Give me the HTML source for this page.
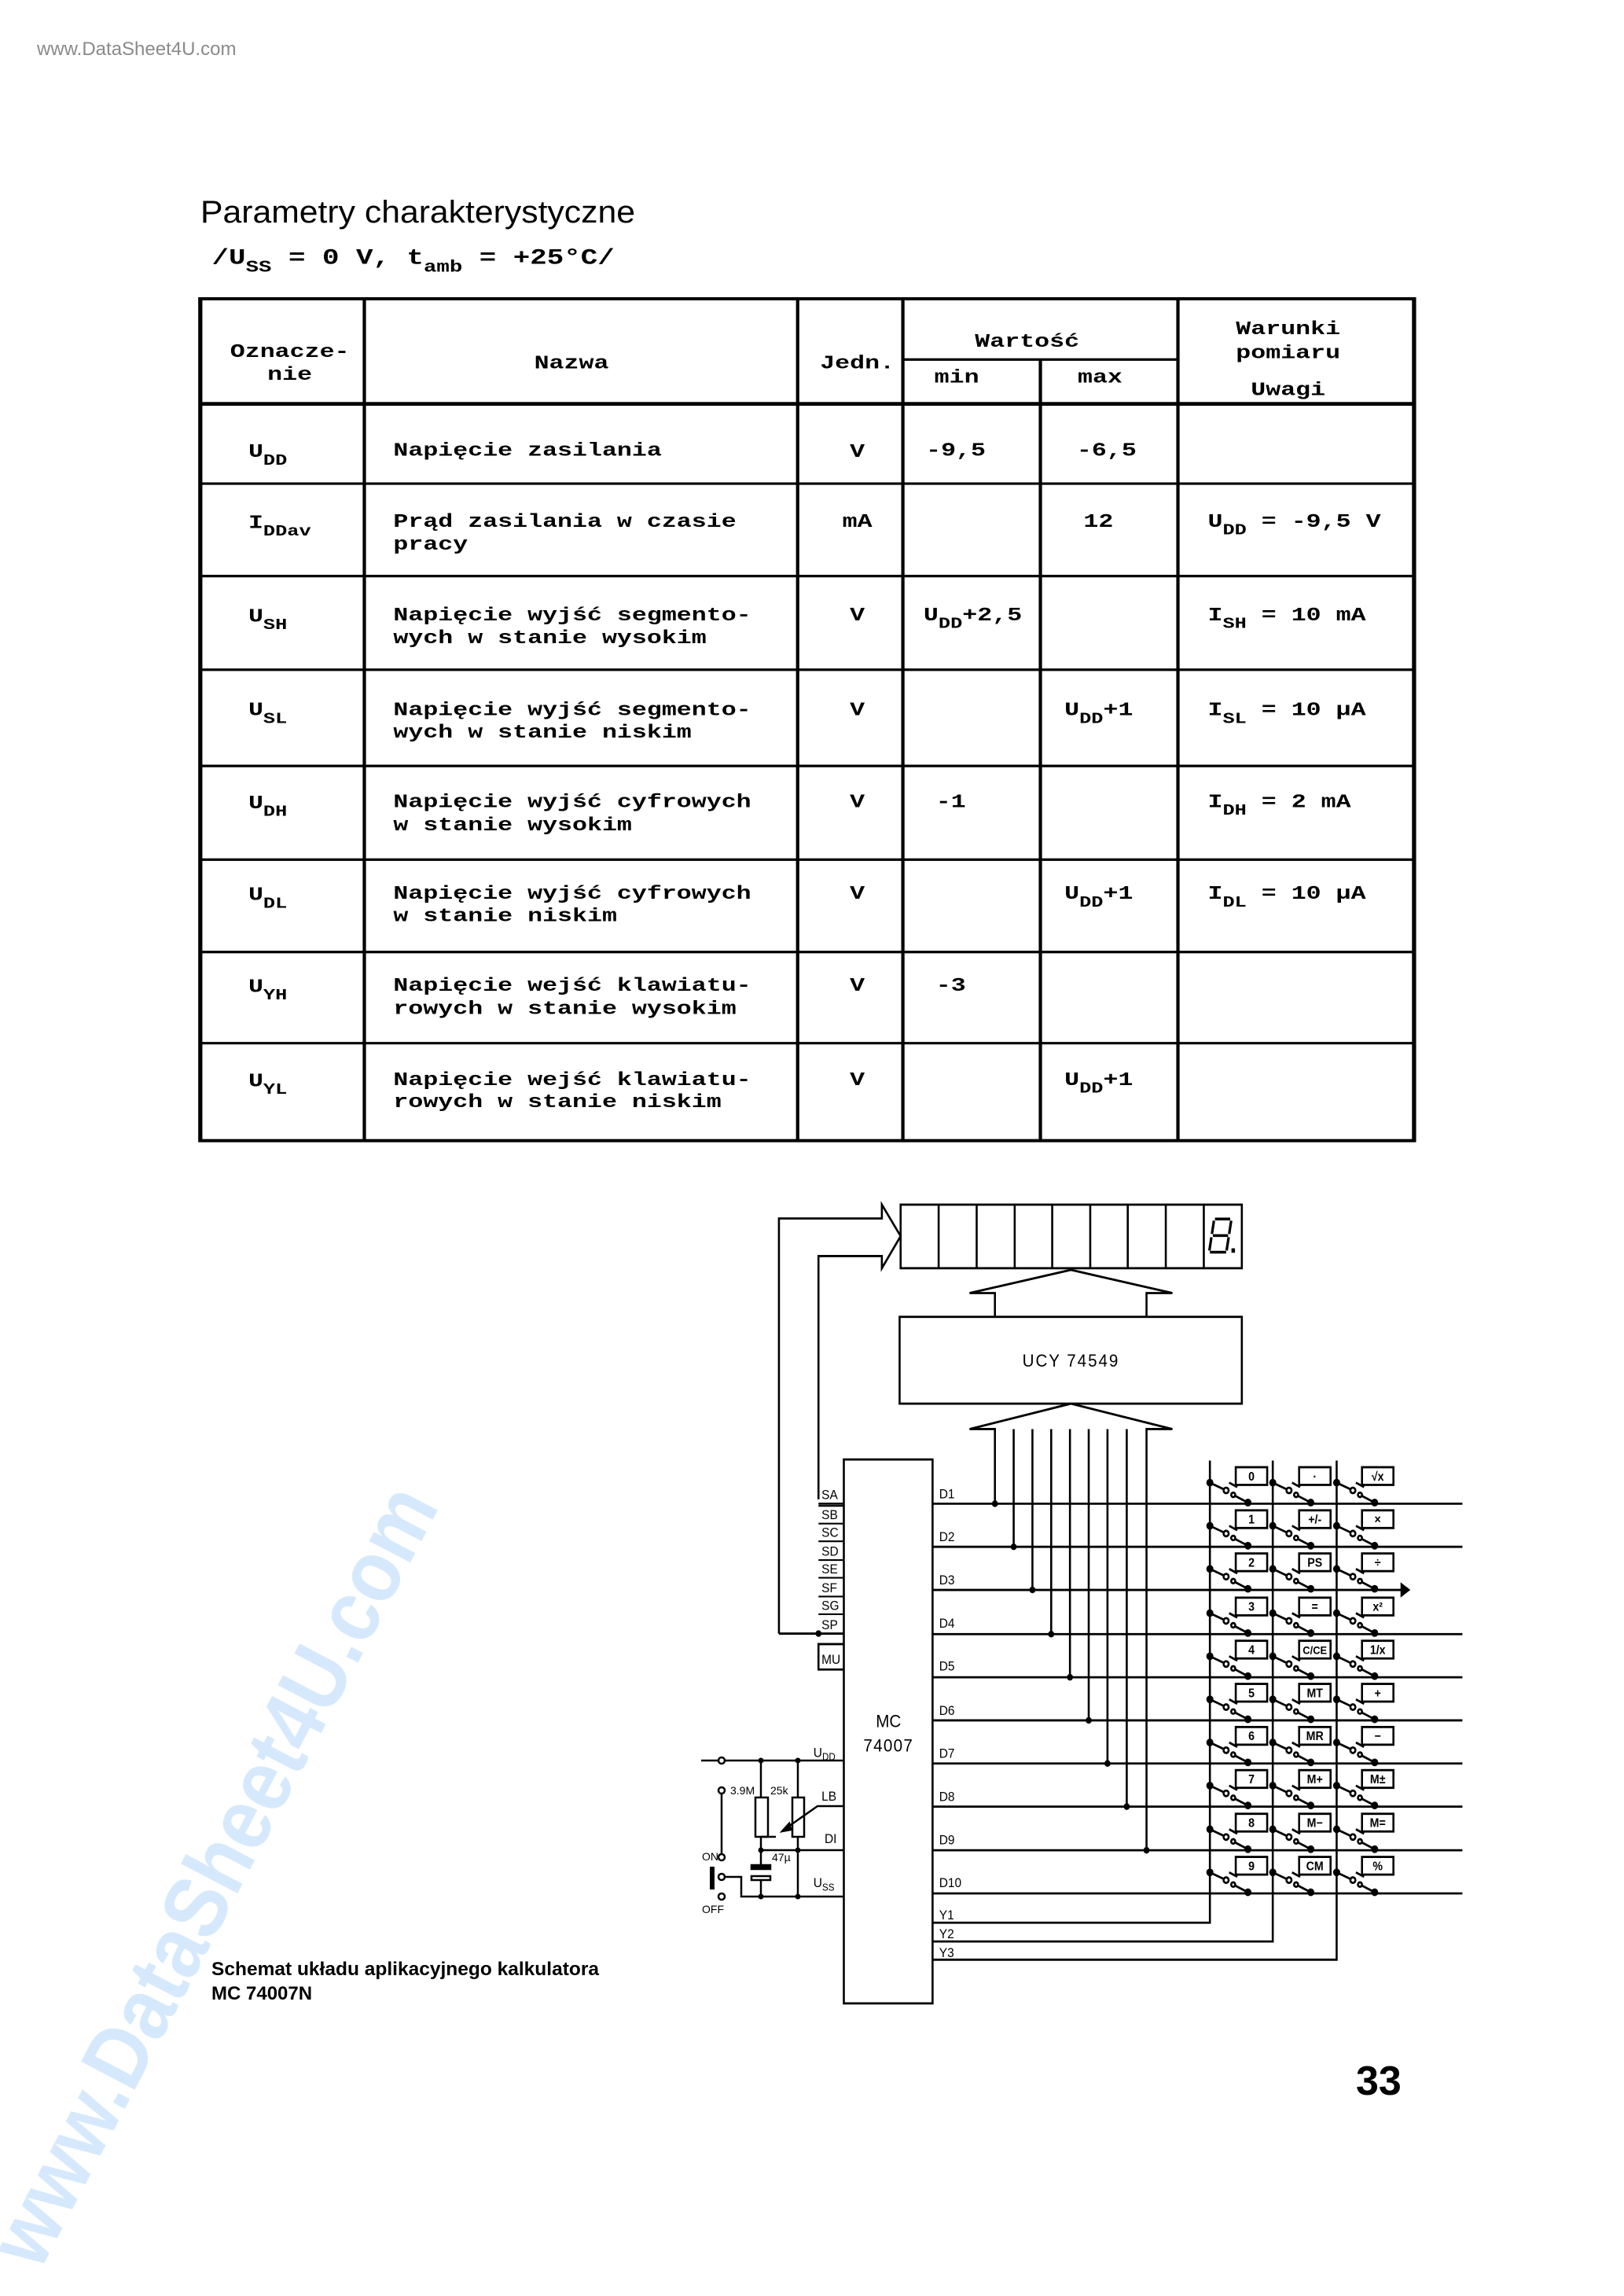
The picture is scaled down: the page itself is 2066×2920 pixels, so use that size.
<!DOCTYPE html>
<html><head><meta charset="utf-8"><style>
html,body{margin:0;padding:0;background:#fff;}
svg{display:block;}
</style></head><body>
<svg width="2066" height="2920" viewBox="0 0 2066 2920" xmlns="http://www.w3.org/2000/svg">
<rect width="2066" height="2920" fill="#fff"/>
<!-- watermarks -->
<text x="47" y="70" font-family="Liberation Sans, sans-serif" font-size="24" fill="#8a8a8a">www.DataSheet4U.com</text>
<text transform="translate(50,2890) rotate(-62.4)" font-family="Liberation Sans, sans-serif" font-weight="bold" font-size="112" fill="#d6e9fc" textLength="1100" lengthAdjust="spacingAndGlyphs">www.DataSheet4U.com</text>

<!-- title -->
<text x="255" y="283" font-family="Liberation Sans, sans-serif" font-size="40" fill="#000" textLength="553" lengthAdjust="spacingAndGlyphs">Parametry  charakterystyczne</text>

<!-- table -->
<g transform="translate(200,219) scale(1.054,0.805)" font-family="Liberation Mono, monospace" font-weight="bold" font-size="30" fill="#000">
<text x="66" y="145" font-size="34">/U<tspan font-size="26" dy="12">SS</tspan><tspan dy="-12"> = 0 V, t</tspan><tspan font-size="26" dy="12">amb</tspan><tspan dy="-12"> = +25°C/</tspan></text>
<g stroke="#000" fill="none">
<rect x="52" y="200" width="1465" height="1330" stroke-width="5"/>
<g stroke-width="4">
<line x1="250" y1="200" x2="250" y2="1530"/>
<line x1="773" y1="200" x2="773" y2="1530"/>
<line x1="900" y1="200" x2="900" y2="1530"/>
<line x1="1066" y1="296" x2="1066" y2="1530"/>
<line x1="1232" y1="200" x2="1232" y2="1530"/>
<line x1="900" y1="296" x2="1232" y2="296"/>
<line x1="52" y1="366" x2="1517" y2="366" stroke-width="6"/>
<line x1="52" y1="492" x2="1517" y2="492"/>
<line x1="52" y1="638" x2="1517" y2="638"/>
<line x1="52" y1="786" x2="1517" y2="786"/>
<line x1="52" y1="938" x2="1517" y2="938"/>
<line x1="52" y1="1086" x2="1517" y2="1086"/>
<line x1="52" y1="1232" x2="1517" y2="1232"/>
<line x1="52" y1="1376" x2="1517" y2="1376"/>
</g></g>
<g text-anchor="middle">
<text x="160" y="292">Oznacze-</text><text x="160" y="328">nie</text>
<text x="500" y="310">Nazwa</text>
<text x="845" y="310">Jedn.</text>
<text x="1050" y="276">Wartość</text>
<text x="965" y="332">min</text><text x="1138" y="332">max</text>
<text x="1365" y="256">Warunki</text><text x="1365" y="294">pomiaru</text><text x="1365" y="352">Uwagi</text>
<text x="845" y="450">V</text><text x="845" y="560">mA</text><text x="845" y="708">V</text><text x="845" y="858">V</text>
<text x="845" y="1003">V</text><text x="845" y="1148">V</text><text x="845" y="1293">V</text><text x="845" y="1442">V</text>
</g>
<text x="110" y="450">U<tspan font-size="24" dy="12">DD</tspan></text>
<text x="110" y="562">I<tspan font-size="24" dy="12">DDav</tspan></text>
<text x="110" y="710">U<tspan font-size="24" dy="12">SH</tspan></text>
<text x="110" y="858">U<tspan font-size="24" dy="12">SL</tspan></text>
<text x="110" y="1005">U<tspan font-size="24" dy="12">DH</tspan></text>
<text x="110" y="1150">U<tspan font-size="24" dy="12">DL</tspan></text>
<text x="110" y="1295">U<tspan font-size="24" dy="12">YH</tspan></text>
<text x="110" y="1444">U<tspan font-size="24" dy="12">YL</tspan></text>

<text x="285" y="448">Napięcie zasilania</text>
<text x="285" y="560">Prąd zasilania w czasie</text><text x="285" y="596">pracy</text>
<text x="285" y="708">Napięcie wyjść segmento-</text><text x="285" y="744">wych w stanie wysokim</text>
<text x="285" y="858">Napięcie wyjść segmento-</text><text x="285" y="893">wych w stanie niskim</text>
<text x="285" y="1003">Napięcie wyjść cyfrowych</text><text x="285" y="1040">w stanie wysokim</text>
<text x="285" y="1148">Napięcie wyjść cyfrowych</text><text x="285" y="1183">w stanie niskim</text>
<text x="285" y="1293">Napięcie wejść klawiatu-</text><text x="285" y="1330">rowych w stanie wysokim</text>
<text x="285" y="1442">Napięcie wejść klawiatu-</text><text x="285" y="1477">rowych w stanie niskim</text>

<text x="928" y="448">-9,5</text><text x="1110" y="448">-6,5</text>
<text x="1118" y="560">12</text>
<text x="925" y="708">U<tspan font-size="24" dy="12">DD</tspan><tspan dy="-12">+2,5</tspan></text>
<text x="1095" y="858">U<tspan font-size="24" dy="12">DD</tspan><tspan dy="-12">+1</tspan></text>
<text x="940" y="1003">-1</text>
<text x="1095" y="1148">U<tspan font-size="24" dy="12">DD</tspan><tspan dy="-12">+1</tspan></text>
<text x="940" y="1293">-3</text>
<text x="1095" y="1442">U<tspan font-size="24" dy="12">DD</tspan><tspan dy="-12">+1</tspan></text>

<text x="1268" y="560">U<tspan font-size="24" dy="12">DD</tspan><tspan dy="-12"> = -9,5 V</tspan></text>
<text x="1268" y="708">I<tspan font-size="24" dy="12">SH</tspan><tspan dy="-12"> = 10 mA</tspan></text>
<text x="1268" y="858">I<tspan font-size="24" dy="12">SL</tspan><tspan dy="-12"> = 10 µA</tspan></text>
<text x="1268" y="1003">I<tspan font-size="24" dy="12">DH</tspan><tspan dy="-12"> = 2 mA</tspan></text>
<text x="1268" y="1148">I<tspan font-size="24" dy="12">DL</tspan><tspan dy="-12"> = 10 µA</tspan></text>
</g>

<!-- diagram -->
<defs>
<g id="sw" stroke="#000" stroke-width="4" fill="#000">
<circle cx="0" cy="-38" r="5"/>
<line x1="0" y1="-38" x2="30" y2="-25"/>
<circle cx="32" cy="-24" r="5" fill="#fff"/>
<line x1="38" y1="-38" x2="54" y2="-30"/>
<circle cx="46" cy="-16" r="4" fill="#fff"/>
<line x1="50" y1="-14" x2="75" y2="-2"/>
<circle cx="75" cy="-2" r="5"/>
</g>
</defs>
<g transform="translate(880,1499) scale(0.645,0.703)" stroke="#000" stroke-width="4" fill="none">
<!-- display -->
<rect x="412" y="47" width="673" height="115"/>
<g><line x1="487" y1="47" x2="487" y2="162"/><line x1="562" y1="47" x2="562" y2="162"/><line x1="637" y1="47" x2="637" y2="162"/><line x1="711" y1="47" x2="711" y2="162"/><line x1="786" y1="47" x2="786" y2="162"/><line x1="860" y1="47" x2="860" y2="162"/><line x1="935" y1="47" x2="935" y2="162"/><line x1="1010" y1="47" x2="1010" y2="162"/></g>
<g stroke-width="5"><line x1="1032" y1="73" x2="1062" y2="73"/><line x1="1030" y1="76" x2="1026" y2="100"/><line x1="1064" y1="76" x2="1060" y2="100"/><line x1="1028" y1="103" x2="1058" y2="103"/><line x1="1025" y1="106" x2="1021" y2="130"/><line x1="1059" y1="106" x2="1055" y2="130"/><line x1="1022" y1="133" x2="1054" y2="133"/><line x1="1068" y1="126" x2="1068" y2="134" stroke-width="7"/></g>
<!-- big hollow arrow into display -->
<polyline points="172,823 172,72 375,72 375,47 412,104 375,162 375,140 250,140 250,580"/>
<!-- upper arrow -->
<polyline points="598,250 598,207 548,207 748,165 948,207 897,207 897,250"/>
<rect x="410" y="250" width="675" height="157"/>
<!-- lower arrow -->
<polyline points="598,588 598,453 548,453 748,407 948,453 897,453 897,1215"/>
<g>
<line x1="635" y1="453" x2="635" y2="666"/><line x1="672" y1="453" x2="672" y2="744"/><line x1="709" y1="453" x2="709" y2="824"/><line x1="746" y1="453" x2="746" y2="902"/><line x1="783" y1="453" x2="783" y2="980"/><line x1="820" y1="453" x2="820" y2="1058"/><line x1="858" y1="453" x2="858" y2="1136"/>
</g>
<g fill="#000" stroke="none">
<circle cx="598" cy="588" r="6"/><circle cx="635" cy="666" r="6"/><circle cx="672" cy="744" r="6"/><circle cx="709" cy="824" r="6"/><circle cx="746" cy="902" r="6"/><circle cx="783" cy="980" r="6"/><circle cx="820" cy="1058" r="6"/><circle cx="858" cy="1136" r="6"/><circle cx="897" cy="1215" r="6"/><circle cx="250" cy="823" r="6"/>
</g>
<!-- MC box -->
<rect x="300" y="508" width="175" height="984"/>
<!-- pins left -->
<line x1="172" y1="823" x2="300" y2="823"/>
<line x1="250" y1="588" x2="300" y2="588"/>
<g stroke-width="3"><line x1="250" y1="592" x2="300" y2="592"/><line x1="250" y1="624" x2="300" y2="624"/><line x1="250" y1="656" x2="300" y2="656"/><line x1="250" y1="690" x2="300" y2="690"/><line x1="250" y1="722" x2="300" y2="722"/><line x1="250" y1="756" x2="300" y2="756"/><line x1="250" y1="788" x2="300" y2="788"/></g>
<polyline points="300,842 250,842 250,888 300,888"/>
<!-- D lines -->
<g>
<line x1="475" y1="588" x2="1520" y2="588"/><line x1="475" y1="666" x2="1520" y2="666"/><line x1="475" y1="744" x2="1410" y2="744"/><line x1="475" y1="824" x2="1520" y2="824"/><line x1="475" y1="902" x2="1520" y2="902"/><line x1="475" y1="980" x2="1520" y2="980"/><line x1="475" y1="1058" x2="1520" y2="1058"/><line x1="475" y1="1136" x2="1520" y2="1136"/><line x1="475" y1="1215" x2="1520" y2="1215"/><line x1="475" y1="1293" x2="1520" y2="1293"/>
<polyline points="475,1346 1022,1346 1022,510"/>
<polyline points="475,1380 1146,1380 1146,510"/>
<polyline points="475,1413 1272,1413 1272,510"/>
</g>
<path d="M1400,734 L1414,744 L1400,754 Z" fill="#000"/>
<!-- keys -->
<g stroke-width="4">
<rect x="1073" y="522" width="62" height="32"/><rect x="1198" y="522" width="62" height="32"/><rect x="1322" y="522" width="62" height="32"/>
<rect x="1073" y="600" width="62" height="32"/><rect x="1198" y="600" width="62" height="32"/><rect x="1322" y="600" width="62" height="32"/>
<rect x="1073" y="678" width="62" height="32"/><rect x="1198" y="678" width="62" height="32"/><rect x="1322" y="678" width="62" height="32"/>
<rect x="1073" y="758" width="62" height="32"/><rect x="1198" y="758" width="62" height="32"/><rect x="1322" y="758" width="62" height="32"/>
<rect x="1073" y="836" width="62" height="32"/><rect x="1198" y="836" width="62" height="32"/><rect x="1322" y="836" width="62" height="32"/>
<rect x="1073" y="914" width="62" height="32"/><rect x="1198" y="914" width="62" height="32"/><rect x="1322" y="914" width="62" height="32"/>
<rect x="1073" y="992" width="62" height="32"/><rect x="1198" y="992" width="62" height="32"/><rect x="1322" y="992" width="62" height="32"/>
<rect x="1073" y="1070" width="62" height="32"/><rect x="1198" y="1070" width="62" height="32"/><rect x="1322" y="1070" width="62" height="32"/>
<rect x="1073" y="1149" width="62" height="32"/><rect x="1198" y="1149" width="62" height="32"/><rect x="1322" y="1149" width="62" height="32"/>
<rect x="1073" y="1227" width="62" height="32"/><rect x="1198" y="1227" width="62" height="32"/><rect x="1322" y="1227" width="62" height="32"/>
</g>
<!-- switches -->
<use href="#sw" x="1022" y="588"/><use href="#sw" x="1146" y="588"/><use href="#sw" x="1272" y="588"/>
<use href="#sw" x="1022" y="666"/><use href="#sw" x="1146" y="666"/><use href="#sw" x="1272" y="666"/>
<use href="#sw" x="1022" y="744"/><use href="#sw" x="1146" y="744"/><use href="#sw" x="1272" y="744"/>
<use href="#sw" x="1022" y="824"/><use href="#sw" x="1146" y="824"/><use href="#sw" x="1272" y="824"/>
<use href="#sw" x="1022" y="902"/><use href="#sw" x="1146" y="902"/><use href="#sw" x="1272" y="902"/>
<use href="#sw" x="1022" y="980"/><use href="#sw" x="1146" y="980"/><use href="#sw" x="1272" y="980"/>
<use href="#sw" x="1022" y="1058"/><use href="#sw" x="1146" y="1058"/><use href="#sw" x="1272" y="1058"/>
<use href="#sw" x="1022" y="1136"/><use href="#sw" x="1146" y="1136"/><use href="#sw" x="1272" y="1136"/>
<use href="#sw" x="1022" y="1215"/><use href="#sw" x="1146" y="1215"/><use href="#sw" x="1272" y="1215"/>
<use href="#sw" x="1022" y="1293"/><use href="#sw" x="1146" y="1293"/><use href="#sw" x="1272" y="1293"/>
<!-- texts -->
<g fill="#000" stroke="none" font-family="Liberation Sans, sans-serif" font-size="24">
<text x="748" y="340" font-size="32" text-anchor="middle" letter-spacing="3">UCY 74549</text>
<text x="388" y="992" font-size="32" text-anchor="middle">MC</text>
<text x="388" y="1036" font-size="32" text-anchor="middle" letter-spacing="2">74007</text>
<text x="256" y="580">SA</text><text x="256" y="616">SB</text><text x="256" y="648">SC</text><text x="256" y="682">SD</text><text x="256" y="714">SE</text><text x="256" y="748">SF</text><text x="256" y="780">SG</text><text x="256" y="815">SP</text><text x="256" y="878">MU</text>
<text x="240" y="1046">U<tspan font-size="18" dy="6">DD</tspan></text>
<text x="256" y="1125">LB</text><text x="262" y="1202">DI</text>
<text x="240" y="1282">U<tspan font-size="18" dy="6">SS</tspan></text>
<text x="488" y="578">D1</text><text x="488" y="656">D2</text><text x="488" y="734">D3</text><text x="488" y="812">D4</text><text x="488" y="890">D5</text><text x="488" y="970">D6</text><text x="488" y="1048">D7</text><text x="488" y="1126">D8</text><text x="488" y="1204">D9</text><text x="488" y="1282">D10</text>
<text x="488" y="1340">Y1</text><text x="488" y="1374">Y2</text><text x="488" y="1408">Y3</text>
<g text-anchor="middle" font-weight="bold" font-size="22">
<text x="1104" y="546">0</text><text x="1229" y="546">·</text><text x="1353" y="546">√x</text>
<text x="1104" y="624">1</text><text x="1229" y="624">+/-</text><text x="1353" y="624">×</text>
<text x="1104" y="702">2</text><text x="1229" y="702">PS</text><text x="1353" y="702">÷</text>
<text x="1104" y="782">3</text><text x="1229" y="782">=</text><text x="1353" y="782">x²</text>
<text x="1104" y="860">4</text><text x="1229" y="860" font-size="20">C/CE</text><text x="1353" y="860">1/x</text>
<text x="1104" y="938">5</text><text x="1229" y="938">MT</text><text x="1353" y="938">+</text>
<text x="1104" y="1016">6</text><text x="1229" y="1016">MR</text><text x="1353" y="1016">−</text>
<text x="1104" y="1094">7</text><text x="1229" y="1094">M+</text><text x="1353" y="1094">M±</text>
<text x="1104" y="1173">8</text><text x="1229" y="1173">M−</text><text x="1353" y="1173">M=</text>
<text x="1104" y="1251">9</text><text x="1229" y="1251">CM</text><text x="1353" y="1251">%</text>
</g>
</g>
</g>

<!-- power circuit (real coords) -->
<g transform="translate(0,-11)">
<g stroke="#000" stroke-width="2.5" fill="none">
<line x1="892" y1="2250" x2="1073" y2="2250"/>
<circle cx="918" cy="2250" r="4" fill="#fff"/>
<line x1="968" y1="2250" x2="968" y2="2297"/>
<rect x="961" y="2297" width="16" height="50"/>
<line x1="968" y1="2347" x2="968" y2="2386"/>
<line x1="968" y1="2364" x2="1073" y2="2364"/>
<line x1="968" y1="2347" x2="987" y2="2347"/>
<line x1="1015" y1="2250" x2="1015" y2="2297"/>
<rect x="1008" y="2297" width="15" height="50"/>
<line x1="1015" y1="2347" x2="1015" y2="2423"/>
<polyline points="1000,2336 1040,2308 1073,2308"/>
<path d="M995,2340 L1004,2330 L1006,2338 Z" fill="#000"/>
<rect x="956" y="2383" width="24" height="5" fill="#000"/>
<rect x="956" y="2397" width="24" height="5" fill="#fff"/>
<line x1="968" y1="2402" x2="968" y2="2423"/>
<polyline points="922,2398 943,2398 943,2423 1073,2423"/>
<line x1="918" y1="2292" x2="918" y2="2369"/>
<circle cx="918" cy="2288" r="4" fill="#fff"/>
<circle cx="918" cy="2373" r="4" fill="#fff"/>
<circle cx="918" cy="2398" r="4" fill="#fff"/>
<circle cx="918" cy="2423" r="4" fill="#fff"/>
<line x1="906" y1="2385" x2="906" y2="2414" stroke-width="6"/>
</g>
<g fill="#000">
<circle cx="968" cy="2250" r="3.5"/><circle cx="1015" cy="2250" r="3.5"/><circle cx="968" cy="2364" r="3.5"/><circle cx="1015" cy="2364" r="3.5"/><circle cx="968" cy="2423" r="3.5"/><circle cx="1015" cy="2423" r="3.5"/>
</g>
<g font-family="Liberation Sans, sans-serif" font-size="14" fill="#000">
<text x="929" y="2293">3.9M</text><text x="980" y="2293">25k</text><text x="982" y="2378">47µ</text>
<text x="893" y="2377">ON</text><text x="893" y="2444">OFF</text>
</g>
</g>

<!-- caption -->
<g font-family="Liberation Sans, sans-serif" font-weight="bold" font-size="24" fill="#000">
<text x="269" y="2512" textLength="493" lengthAdjust="spacingAndGlyphs">Schemat układu aplikacyjnego kalkulatora</text>
<text x="269" y="2543">MC 74007N</text>
</g>
<text x="1725" y="2664" font-family="Liberation Sans, sans-serif" font-weight="bold" font-size="52" fill="#000">33</text>
</svg>
</body></html>
